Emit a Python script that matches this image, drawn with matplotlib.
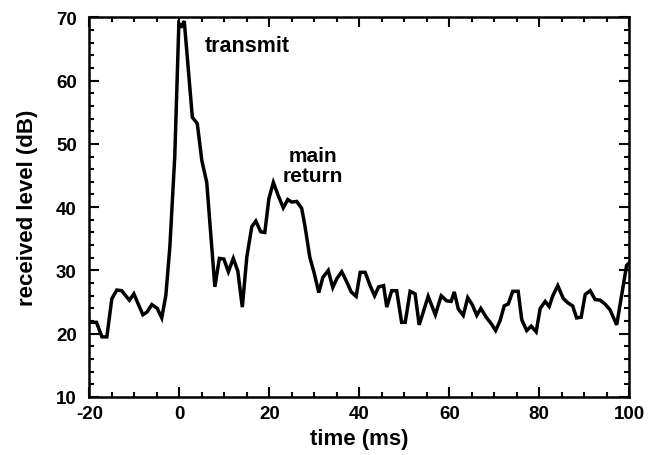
import matplotlib
matplotlib.use("Agg")
import matplotlib.pyplot as plt
from matplotlib.ticker import MultipleLocator

plt.rcParams['font.family'] = ['Liberation Sans', 'DejaVu Sans']
plt.rcParams['font.weight'] = 'bold'

# received level vs. time
time_ms = [
    -20.0, -18.4, -17.2, -16.1, -15.0, -13.9, -12.8, -11.1, -10.1, -8.1,
    -7.2, -6.1, -4.9, -3.9, -3.0, -2.1, -1.0, -0.1, 0.5, 1.1,
    2.9, 4.0, 5.0, 6.1, 7.9, 8.9, 9.9, 10.9, 12.0, 13.0,
    14.0, 15.0, 16.1, 17.0, 18.1, 19.0, 19.9, 20.9, 22.0, 23.1,
    24.1, 25.0, 26.1, 27.2, 27.9, 29.0, 30.0, 31.0, 31.9, 33.1,
    34.1, 35.0, 36.1, 37.2, 38.2, 39.3, 40.2, 41.3, 42.4, 43.4,
    44.3, 45.4, 46.1, 47.2, 48.3, 49.4, 50.2, 51.3, 52.4, 53.3,
    54.2, 55.3, 56.9, 58.2, 59.4, 60.4, 61.1, 62.0, 63.1, 64.1,
    65.1, 66.1, 67.0, 68.2, 69.3, 70.3, 71.3, 72.2, 73.1, 74.1,
    75.3, 76.1, 77.2, 78.2, 79.3, 80.2, 81.3, 82.2, 83.0, 84.1,
    85.3, 86.3, 87.4, 88.3, 89.3, 90.2, 91.3, 92.4, 93.5, 94.6,
    95.7, 97.2, 99.4, 100.0,
]
level_db = [
    21.8, 21.8, 19.5, 19.5, 25.5, 26.9, 26.8, 25.3, 26.3, 23.0,
    23.4, 24.6, 24.0, 22.5, 26.0, 33.7, 48.1, 69.0, 68.6, 69.4,
    54.2, 53.2, 47.4, 43.9, 27.4, 31.9, 31.8, 29.8, 31.9, 29.9,
    24.2, 32.1, 36.9, 37.8, 36.1, 36.0, 41.3, 43.9, 41.8, 39.9,
    41.2, 40.8, 40.9, 39.8, 37.1, 32.1, 29.5, 26.5, 28.9, 30.0,
    27.3, 28.7, 29.8, 28.2, 26.6, 25.9, 29.7, 29.7, 27.6, 26.0,
    27.4, 27.6, 24.2, 26.8, 26.8, 21.8, 21.8, 26.7, 26.3, 21.4,
    23.4, 25.9, 23.0, 26.0, 25.2, 25.1, 26.6, 23.9, 22.9, 25.7,
    24.6, 22.9, 24.0, 22.6, 21.6, 20.5, 22.1, 24.4, 24.7, 26.7,
    26.7, 22.2, 20.5, 21.2, 20.3, 24.0, 25.1, 24.3, 26.0, 27.6,
    25.6, 24.9, 24.4, 22.5, 22.6, 26.2, 26.8, 25.4, 25.3, 24.7,
    23.8, 21.4, 30.8, 31.2,
]

x_ticks = [-20, 0, 20, 40, 60, 80, 100]
y_ticks = [10, 20, 30, 40, 50, 60, 70]

fig = plt.figure(figsize=(6.6, 4.56), dpi=100)
ax = fig.add_axes([0.1353, 0.1272, 0.8182, 0.8327])

ax.plot(time_ms, level_db, color='black', linewidth=2.5, solid_joinstyle='miter')

ax.set_xlim(-20, 100)
ax.set_ylim(10, 70)
ax.set_xticks(x_ticks)
ax.set_yticks(y_ticks)
ax.set_xticklabels([str(v) for v in x_ticks])
ax.set_yticklabels([str(v) for v in y_ticks])
ax.xaxis.set_minor_locator(MultipleLocator(5))
ax.yaxis.set_minor_locator(MultipleLocator(2))

ax.tick_params(which='both', direction='in', top=True, right=True, width=1.5, color='black')
ax.tick_params(which='major', length=7.5, labelsize=13.5)
ax.tick_params(axis='x', which='major', pad=6)
ax.tick_params(axis='y', which='major', pad=9)
ax.tick_params(which='minor', length=3.8)
for lbl in ax.get_xticklabels() + ax.get_yticklabels():
    lbl.set_fontweight('bold')

for sp in ax.spines.values():
    sp.set_linewidth(1.8)
    sp.set_color('black')

ax.set_xlabel('time (ms)', fontsize=16, fontweight='bold', labelpad=4)
ax.set_ylabel('received level (dB)', fontsize=16, fontweight='bold', labelpad=13)

ax.text(15.0, 65.6, 'transmit', fontsize=15.5, fontweight='bold', ha='center', va='center')
ax.text(29.6, 46.6, 'main\nreturn', fontsize=15, fontweight='bold', ha='center', va='center',
        linespacing=1.1)

fig.savefig('out.png', dpi=100)
